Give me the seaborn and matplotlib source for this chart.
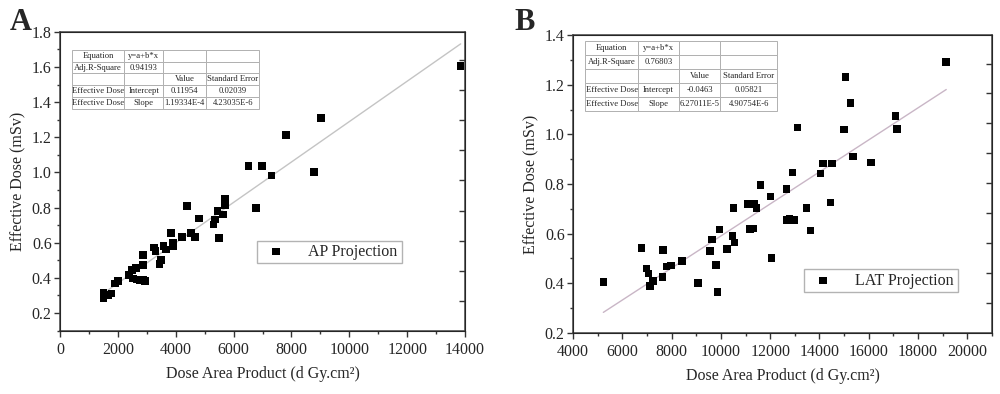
import numpy as np
import pandas as pd
import seaborn as sns
import matplotlib.pyplot as plt

# AP projection: dose area product (d Gy.cm2) vs effective dose (mSv)
ap_dap = [1497, 1497, 1670, 1787, 1901, 2015, 2385, 2479, 2513, 2627, 2672,
          2766, 2859, 2938, 2859, 2859, 3250, 3295, 3433, 3481, 3571, 3664,
          3837, 3896, 3896, 4218, 4390, 4529, 4667, 4805, 5300, 5348, 5438,
          5497, 5625, 5694, 5694, 6510, 6765, 6983, 7305, 8781, 7813, 9023,
          13850]
ap_dose = [0.315, 0.283, 0.301, 0.311, 0.368, 0.381, 0.415, 0.444, 0.397,
           0.457, 0.391, 0.387, 0.387, 0.383, 0.472, 0.529, 0.573, 0.554,
           0.478, 0.501, 0.581, 0.562, 0.656, 0.581, 0.602, 0.634, 0.810,
           0.656, 0.634, 0.738, 0.704, 0.733, 0.782, 0.626, 0.761, 0.813,
           0.852, 1.036, 0.799, 1.038, 0.983, 1.001, 1.213, 1.310, 1.605]

# LAT projection
lat_dap = [5231, 6781, 6977, 7058, 7256, 7118, 7662, 7634, 7796, 7987, 8417,
           9067, 9554, 9651, 9797, 9867, 9948, 10244, 10476, 10557, 10516,
           11072, 11178, 11316, 11369, 11450, 11613, 12006, 12059, 12656,
           12656, 12790, 12965, 12900, 13102, 13480, 13630, 14036, 14142,
           14454, 14507, 14995, 15360, 16079, 17134, 15059, 15262, 17090,
           19143]
lat_dose = [0.406, 0.542, 0.460, 0.440, 0.409, 0.389, 0.535, 0.425, 0.467,
            0.471, 0.490, 0.401, 0.529, 0.577, 0.474, 0.365, 0.616, 0.538,
            0.591, 0.564, 0.703, 0.719, 0.619, 0.620, 0.719, 0.703, 0.795,
            0.749, 0.502, 0.781, 0.655, 0.660, 0.654, 0.847, 1.028, 0.703,
            0.613, 0.843, 0.883, 0.726, 0.883, 1.020, 0.911, 0.887, 1.021,
            1.232, 1.126, 1.074, 1.291]

ap_table = [["Equation", "y=a+b*x", "", ""],
            ["Adj.R-Square", "0.94193", "", ""],
            ["", "", "Value", "Standard Error"],
            ["Effective Dose", "Intercept", "0.11954", "0.02039"],
            ["Effective Dose", "Slope", "1.19334E-4", "4.23035E-6"]]
lat_table = [["Equation", "y=a+b*x", "", ""],
             ["Adj.R-Square", "0.76803", "", ""],
             ["", "", "Value", "Standard Error"],
             ["Effective Dose", "Intercept", "-0.0463", "0.05821"],
             ["Effective Dose", "Slope", "6.27011E-5", "4.90754E-6"]]

sns.set_style("ticks")
plt.rcParams['font.family'] = ['Liberation Serif', 'DejaVu Serif']

fig = plt.figure(figsize=(10, 3.94), dpi=100)
ax_a = fig.add_axes([0.060, 0.161, 0.405, 0.758])
ax_b = fig.add_axes([0.573, 0.155, 0.419, 0.756])

df_a = pd.DataFrame({"dap": ap_dap, "dose": ap_dose})
df_b = pd.DataFrame({"dap": lat_dap, "dose": lat_dose})

panels = [
    (ax_a, df_a, "#c4c4c4", "AP Projection", ap_table,
     (0, 14000), np.arange(0, 14001, 2000), np.arange(0, 14001, 1000),
     (0.1, 1.8), np.arange(0.2, 1.81, 0.2), np.arange(0.1, 1.81, 0.1),
     [0.030, 0.742, 0.462, 0.198], [0.278, 0.209, 0.230, 0.283],
     (0.486, 0.226, 0.358, 0.070), "A", 0.010),
    (ax_b, df_b, "#c9b6c6", "LAT Projection", lat_table,
     (4000, 21000), np.arange(4000, 20001, 2000), np.arange(4000, 21001, 1000),
     (0.2, 1.4), np.arange(0.2, 1.41, 0.2), np.arange(0.2, 1.41, 0.1),
     [0.029, 0.745, 0.458, 0.235], [0.276, 0.214, 0.214, 0.297],
     (0.551, 0.138, 0.368, 0.072), "B", 0.514),
]

for (ax, df, lcol, lab, tab, xlim, xmaj, xmin, ylim, ymaj, ymin,
     tbox, cw, lbox, letter, lx) in panels:
    sns.regplot(data=df, x="dap", y="dose", ax=ax, scatter=False, ci=None,
                line_kws=dict(color=lcol, lw=1.0))
    sns.scatterplot(data=df, x="dap", y="dose", ax=ax, marker="s", s=30,
                    color="black", edgecolor="none", label=lab, zorder=3)
    ax.set_xlim(*xlim)
    ax.set_ylim(*ylim)
    ax.set_xticks(xmaj)
    ax.set_xticks(xmin, minor=True)
    ax.set_yticks(ymaj)
    ax.set_yticks(ymin, minor=True)
    ax.set_yticklabels([f"{v:.1f}" for v in ymaj])
    ax.tick_params(axis="both", which="major", labelsize=11.5, length=4,
                   width=1, color="#333333")
    ax.tick_params(axis="both", which="minor", length=2.5, width=1,
                   color="#333333")
    ax.tick_params(axis="x", pad=4)
    ax.tick_params(axis="y", pad=2)
    for sp in ax.spines.values():
        sp.set_visible(True)
        sp.set_color("#444444")
        sp.set_linewidth(1.1)
    ax.set_xlabel("Dose Area Product (d Gy.cm²)", fontsize=11.5, labelpad=6)
    ax.set_ylabel("Effective Dose (mSv)", fontsize=11.5, labelpad=4)

    # right-hand tick marks
    tw = ax.twinx()
    tw.set_ylim(0, 9.95)
    tw.set_yticks(np.arange(1, 10))
    tw.tick_params(axis="y", direction="in", length=4, width=1,
                   color="#333333", labelright=False)
    tw.grid(False)

    leg = ax.legend(loc="lower left", bbox_to_anchor=lbox, mode="expand",
                    fancybox=False, edgecolor="#a0a0a0", fontsize=11.5,
                    handletextpad=1.0, borderaxespad=0, borderpad=0.2,
                    markerscale=1.0)
    leg.get_frame().set_linewidth(1.0)

    t = ax.table(cellText=tab, colWidths=cw, bbox=tbox, cellLoc="center")
    t.auto_set_font_size(False)
    t.set_fontsize(6.2)
    for (r, c), cell in t.get_celld().items():
        cell.set_edgecolor("#b0b0b0")
        cell.set_linewidth(0.7)
        cell.set_facecolor("white")
        cell.PAD = 0.01
    t.set_zorder(5)

    fig.text(lx, 0.924, letter, fontsize=22, fontweight="bold",
             ha="left", va="baseline")

fig.savefig("out.png", dpi=100)
